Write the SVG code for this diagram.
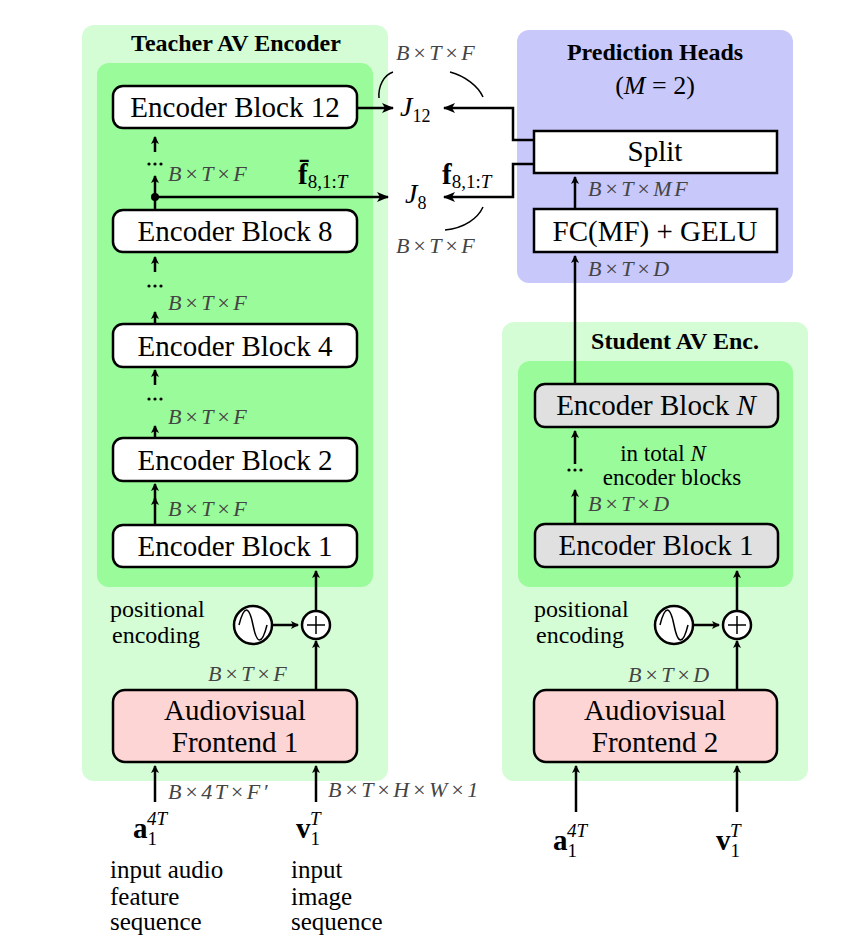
<svg xmlns="http://www.w3.org/2000/svg" width="846" height="943" viewBox="0 0 846 943">
<style>
.t{font-family:"Liberation Serif",serif;fill:#000}
.b{font-size:29px;text-anchor:middle}
.h{font-size:24px;font-weight:bold;text-anchor:middle}
.d{font-family:"Liberation Serif",serif;font-style:italic;font-size:22px;letter-spacing:2.5px;fill:#444}
.box{fill:#fff;stroke:#000;stroke-width:2.5}
.ln{stroke:#000;stroke-width:2.5;fill:none}
.arc{stroke:#000;stroke-width:1.5;fill:none}
.dot{fill:#000}
</style>
<defs><marker id="a" markerWidth="8" markerHeight="8" refX="7" refY="4" orient="auto" markerUnits="userSpaceOnUse"><path d="M0,0 L8,4 L0,8 L2,4 z" fill="#000"/></marker>
<marker id="a2" markerWidth="12" markerHeight="10" refX="11" refY="5" orient="auto" markerUnits="userSpaceOnUse"><path d="M0,0 L12,5 L0,10 L3,5 z" fill="#000"/></marker></defs>
<g id="teacher">
<rect x="82" y="25" width="306" height="756" rx="12" fill="#d5fdd5"/>
<rect x="97" y="63" width="276" height="524" rx="12" fill="#99fb99"/>
<text class="t h" x="236" y="51">Teacher AV Encoder</text>
</g>
<g id="heads">
<rect x="517" y="30" width="276" height="253" rx="12" fill="#c8c8fb"/>
<text class="t h" x="655" y="60">Prediction Heads</text>
<text class="t" x="655" y="94" font-size="26" text-anchor="middle">(<tspan font-style="italic">M</tspan> = 2)</text>
</g>
<g id="student">
<rect x="502" y="322" width="306" height="459" rx="12" fill="#d5fdd5"/>
<rect x="518" y="361" width="275" height="226" rx="12" fill="#99fb99"/>
<text class="t h" x="675" y="349">Student AV Enc.</text>
</g>
<g id="eb12"><rect class="box" x="113" y="86" width="244" height="42" rx="10"/><text class="t b" x="235" y="117">Encoder Block 12</text></g>
<g id="eb8"><rect class="box" x="113" y="210" width="244" height="42" rx="10"/><text class="t b" x="235" y="241">Encoder Block 8</text></g>
<g id="eb4"><rect class="box" x="113" y="324" width="244" height="43" rx="10"/><text class="t b" x="235" y="356">Encoder Block 4</text></g>
<g id="eb2"><rect class="box" x="113" y="438" width="244" height="43" rx="10"/><text class="t b" x="235" y="470">Encoder Block 2</text></g>
<g id="eb1"><rect class="box" x="113" y="525" width="244" height="42" rx="10"/><text class="t b" x="235" y="556">Encoder Block 1</text></g>
<g id="fe1"><rect x="113" y="690" width="244" height="72" rx="12" fill="#fdd5d5" stroke="#000" stroke-width="2.5"/><text class="t b" x="235" y="720">Audiovisual</text><text class="t b" x="235" y="752">Frontend 1</text></g>
<g id="split"><rect class="box" x="534" y="131" width="243" height="42" rx="0"/><text class="t b" x="655" y="161">Split</text></g>
<g id="fc"><rect class="box" x="534" y="209" width="243" height="43" rx="0"/><text class="t b" x="655" y="241">FC(MF) + GELU</text></g>
<g id="sebn"><rect x="535" y="384" width="243" height="43" rx="10" fill="#e0e0e0" stroke="#000" stroke-width="2.5"/><text class="t b" x="656" y="415">Encoder Block <tspan font-style="italic">N</tspan></text></g>
<g id="seb1"><rect x="535" y="524" width="243" height="43" rx="10" fill="#e0e0e0" stroke="#000" stroke-width="2.5"/><text class="t b" x="656" y="555">Encoder Block 1</text></g>
<g id="fe2"><rect x="534" y="690" width="243" height="72" rx="12" fill="#fdd5d5" stroke="#000" stroke-width="2.5"/><text class="t b" x="655" y="720">Audiovisual</text><text class="t b" x="655" y="752">Frontend 2</text></g>
<g id="pe1"><circle cx="253" cy="625" r="19" fill="#fff" stroke="#000" stroke-width="2.5"/><path class="arc" d="M239,625 C244,605 249,605 253,625 C257,645 262,645 267,625"/>
<circle cx="316" cy="625" r="14" fill="#fff" stroke="#000" stroke-width="2.5"/><path class="arc" d="M307,625 H325 M316,616 V634"/>
<text class="t" x="110" y="617" font-size="24">positional</text><text class="t" x="112" y="643" font-size="24">encoding</text></g>
<g id="pe2"><circle cx="674" cy="625" r="19" fill="#fff" stroke="#000" stroke-width="2.5"/><path class="arc" d="M660,625 C665,605 670,605 674,625 C678,645 683,645 688,625"/>
<circle cx="737" cy="625" r="14" fill="#fff" stroke="#000" stroke-width="2.5"/><path class="arc" d="M728,625 H746 M737,616 V634"/>
<text class="t" x="534" y="617" font-size="24">positional</text><text class="t" x="536" y="643" font-size="24">encoding</text></g>
<g id="j"><text class="t" x="400" y="116" font-size="28" font-style="italic">J<tspan font-size="18" font-style="normal" dy="6">12</tspan></text>
<text class="t" x="405" y="203" font-size="28" font-style="italic">J<tspan font-size="18" font-style="normal" dy="6">8</tspan></text></g>
<g id="connectors">
<path class="ln" d="M155,524 V498" marker-end="url(#a)"/>
<path class="ln" d="M155,437 V426" marker-end="url(#a)"/>
<path class="ln" d="M155,323 V312" marker-end="url(#a)"/>
<path class="ln" d="M155,209 V176" marker-end="url(#a)"/>
<path class="ln" d="M155,152 V137" marker-end="url(#a)"/>
<path class="ln" d="M155,272 V257" marker-end="url(#a)"/>
<path class="ln" d="M155,385 V370" marker-end="url(#a)"/>
<path class="ln" d="M155,500 V484" marker-end="url(#a)"/>
<circle cx="155" cy="197" r="4" fill="#000"/>
<path class="ln" d="M155,197 H388" marker-end="url(#a2)"/>
<path class="ln" d="M358,108 H393" marker-end="url(#a2)"/>
<path class="ln" d="M534,140 H513 V108 H444" marker-end="url(#a2)"/>
<path class="ln" d="M534,164 H513 V197 H444" marker-end="url(#a2)"/>
<path class="ln" d="M575,209 V177" marker-end="url(#a)"/>
<path class="ln" d="M575,384 V256" marker-end="url(#a)"/>
<path class="ln" d="M575,524 V490" marker-end="url(#a)"/>
<path class="ln" d="M575,464 V431" marker-end="url(#a)"/>
<path class="ln" d="M316,690 V641" marker-end="url(#a)"/>
<path class="ln" d="M316,611 V571" marker-end="url(#a)"/>
<path class="ln" d="M272,625 H298" marker-end="url(#a)"/>
<path class="ln" d="M737,690 V641" marker-end="url(#a)"/>
<path class="ln" d="M737,611 V571" marker-end="url(#a)"/>
<path class="ln" d="M693,625 H719" marker-end="url(#a)"/>
<path class="ln" d="M155,802 V766" marker-end="url(#a)"/>
<path class="ln" d="M316,802 V766" marker-end="url(#a)"/>
<path class="ln" d="M576,812 V766" marker-end="url(#a)"/>
<path class="ln" d="M737,812 V766" marker-end="url(#a)"/>
<path class="arc" d="M379,98 C378,86 384,75 393,72"/>
<path class="arc" d="M450,72 C465,76 478,86 483,97"/>
<path class="arc" d="M483,207 C478,218 465,228 445,230"/>
</g>
<g id="labels">
<g class="dot"><circle cx="149" cy="164" r="1.6"/><circle cx="155" cy="164" r="1.6"/><circle cx="161" cy="164" r="1.6"/>
<circle cx="149" cy="286" r="1.6"/><circle cx="155" cy="286" r="1.6"/><circle cx="161" cy="286" r="1.6"/>
<circle cx="149" cy="399" r="1.6"/><circle cx="155" cy="399" r="1.6"/><circle cx="161" cy="399" r="1.6"/>
<circle cx="569" cy="470" r="1.6"/><circle cx="575" cy="470" r="1.6"/><circle cx="581" cy="470" r="1.6"/></g>
<text class="d" x="168" y="181">B×T×F</text>
<text class="d" x="168" y="310">B×T×F</text>
<text class="d" x="168" y="424">B×T×F</text>
<text class="d" x="168" y="516">B×T×F</text>
<text class="d" x="208" y="681">B×T×F</text>
<text class="d" x="168" y="799">B×4T×F′</text>
<text class="d" x="328" y="797">B×T×H×W×1</text>
<text class="d" x="396" y="60">B×T×F</text>
<text class="d" x="396" y="253">B×T×F</text>
<text class="d" x="588" y="196">B×T×MF</text>
<text class="d" x="588" y="276">B×T×D</text>
<text class="d" x="588" y="511">B×T×D</text>
<text class="d" x="628" y="682">B×T×D</text>
<text class="t" x="298" y="184" font-size="29" font-weight="bold">f̄<tspan font-size="19" font-weight="normal" dy="4">8,1:<tspan font-style="italic">T</tspan></tspan></text>
<text class="t" x="442" y="184" font-size="29" font-weight="bold">f<tspan font-size="19" font-weight="normal" dy="4">8,1:<tspan font-style="italic">T</tspan></tspan></text>
<text class="t" x="663" y="461" font-size="23" text-anchor="middle">in total <tspan font-style="italic">N</tspan></text>
<text class="t" x="672" y="485" font-size="23" text-anchor="middle">encoder blocks</text>
<text class="t" x="133" y="838" font-size="29" font-weight="bold">a<tspan font-size="19" font-weight="normal" dy="7">1</tspan><tspan font-size="19" font-weight="normal" font-style="italic" dx="-10" dy="-20">4T</tspan></text>
<text class="t" x="296" y="838" font-size="29" font-weight="bold">v<tspan font-size="19" font-weight="normal" dy="7">1</tspan><tspan font-size="19" font-weight="normal" font-style="italic" dx="-10" dy="-20">T</tspan></text>
<text class="t" x="553" y="850" font-size="29" font-weight="bold">a<tspan font-size="19" font-weight="normal" dy="7">1</tspan><tspan font-size="19" font-weight="normal" font-style="italic" dx="-10" dy="-20">4T</tspan></text>
<text class="t" x="716" y="850" font-size="29" font-weight="bold">v<tspan font-size="19" font-weight="normal" dy="7">1</tspan><tspan font-size="19" font-weight="normal" font-style="italic" dx="-10" dy="-20">T</tspan></text>
<text class="t" x="110" y="878" font-size="25">input audio</text>
<text class="t" x="110" y="905" font-size="25">feature</text>
<text class="t" x="110" y="930" font-size="25">sequence</text>
<text class="t" x="291" y="878" font-size="25">input</text>
<text class="t" x="291" y="905" font-size="25">image</text>
<text class="t" x="291" y="930" font-size="25">sequence</text>
</g>
</svg>
